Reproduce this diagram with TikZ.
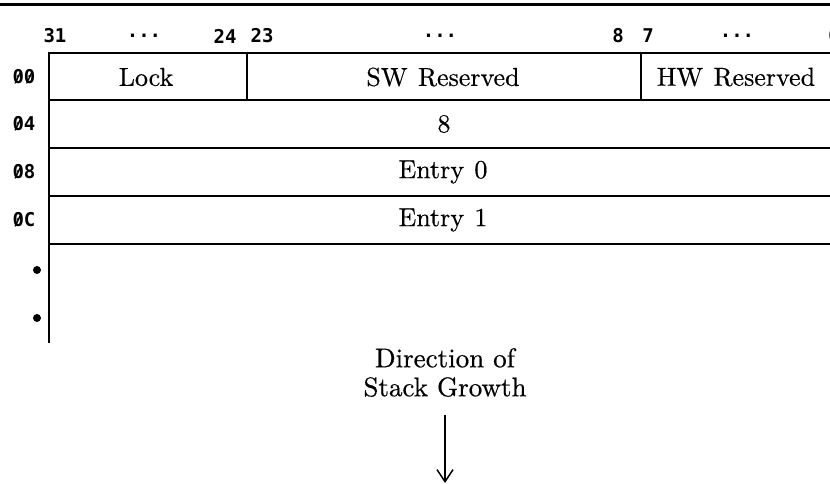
\documentclass[tikz,border=0pt]{standalone}
\usepackage{fontspec}
\setmainfont{Latin Modern Roman}
\newfontfamily\scanfont{lmroman10-regular.otf}[FakeBold=0.5]
\newfontfamily\bitfont{DejaVu Sans Mono}
\newcommand\slz{\ooalign{0\cr\hidewidth\raisebox{0.06em}{\scalebox{0.8}{/}}\hidewidth\cr}}
\newcommand\cellfont{\scanfont\fontsize{26}{30}\selectfont\spaceskip=0.4em\relax}
\newcommand\capfont{\scanfont\fontsize{27}{29}\selectfont}
\usetikzlibrary{arrows.meta}
\tikzset{
  x=1pt, y=-1pt,
  grid/.style={line width=1.8pt, black},
  cell/.style={font=\cellfont, inner sep=0pt, anchor=center},
  bitlab/.style={font=\bitfont\bfseries\fontsize{19}{22}\selectfont, inner sep=0pt, anchor=center},
  offlab/.style={font=\bitfont\bfseries\fontsize{19}{22}\selectfont, inner sep=0pt, anchor=center},
  captext/.style={font=\capfont, align=center, inner sep=0pt},
  growarrow/.style={line width=1.5pt, -{Straight Barb[length=12pt,width=16pt,line width=1.5pt]}},
  dotmark/.style={circle, fill=black, inner sep=0pt, minimum size=8pt},
}
\begin{document}
\begin{tikzpicture}
\useasboundingbox (0,0) rectangle (830,484);
\clip (0,0) rectangle (830,484);
% top rule
\draw[line width=3pt] (0,4.5) -- (830,4.5);
% bit labels
\node[bitlab] (b31) at (55,36) {31};
\node[bitlab] (bd1) at (144,36) {...};
\node[bitlab] (b24) at (225,36) {24};
\node[bitlab] (b23) at (262,36) {23};
\node[bitlab] (bd2) at (440,36) {...};
\node[bitlab] (b8) at (618,36) {8};
\node[bitlab] (b7) at (648,36) {7};
\node[bitlab] (bd3) at (737,36) {...};
\node[bitlab] (b0) at (834,36) {\slz};
% grid
\draw[grid] (850,53) -- (49,53) -- (49,343);
\draw[grid] (49,100) -- (850,100);
\draw[grid] (49,148) -- (850,148);
\draw[grid] (49,196) -- (850,196);
\draw[grid] (49,244) -- (850,244);
\draw[grid] (247,53) -- (247,100);
\draw[grid] (641,53) -- (641,100);
% offsets
\node[offlab] (o0) at (24,77) {\slz\slz};
\node[offlab] (o4) at (24,124) {\slz4};
\node[offlab] (o8) at (24,172) {\slz8};
\node[offlab] (oC) at (24,220) {\slz C};
\node[dotmark] (d1) at (37,270) {};
\node[dotmark] (d2) at (37,318) {};
% cells
\node[cell] (lock) at (146,77) {Lock};
\node[cell] (swr) at (443,77) {SW Reserved};
\node[cell] (hwr) at (736,77) {HW Reserved};
\node[cell] (eight) at (444,124) {8};
\node[cell] (e0) at (443,172) {Entry 0};
\node[cell] (e1) at (443,220) {Entry 1};
% caption and arrow
\node[captext, anchor=north] (dir) at (445,348) {Direction of\\Stack Growth};
\coordinate (atop) at (445,415);
\coordinate (abot) at (445,483);
\draw[growarrow] (atop) -- (abot);
\end{tikzpicture}
\end{document}
